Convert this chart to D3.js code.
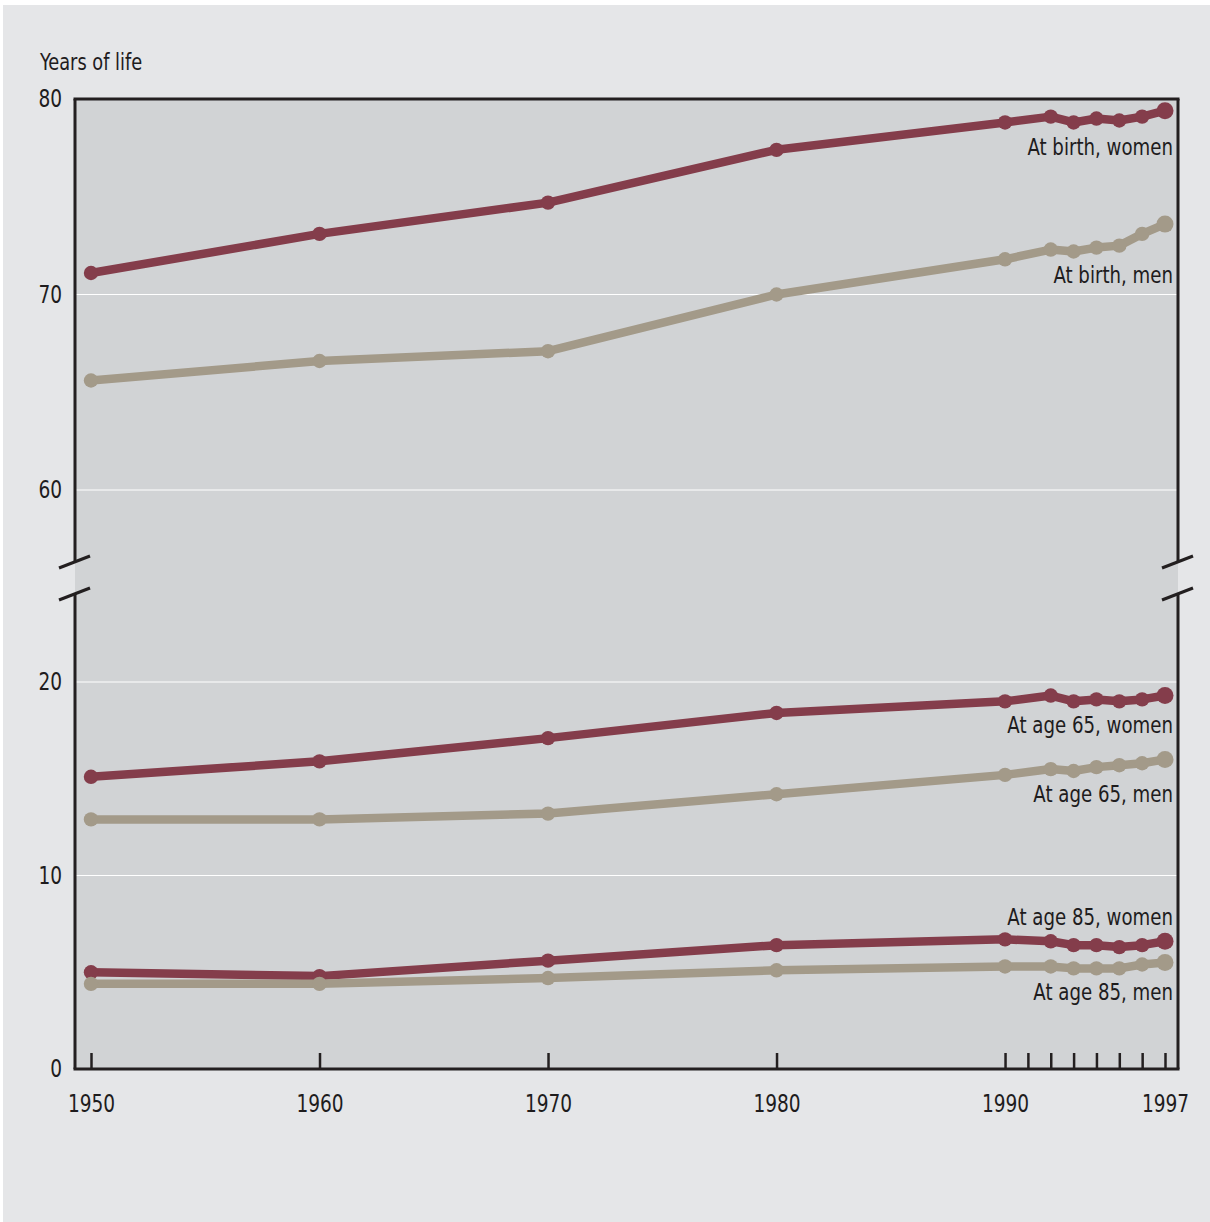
<!DOCTYPE html>
<html>
<head>
<meta charset="utf-8">
<script src="https://cdn.jsdelivr.net/npm/d3@7"></script>
<style>
  html, body { margin: 0; padding: 0; background: #ffffff; }
  svg { display: block; }
  text { font-family: "Liberation Sans Narrow", "DejaVu Sans Condensed", sans-serif; fill: #1e1c1d; }
</style>
</head>
<body>
<div id="chart"></div>
<script>
// ---- data ----
const years = [1950, 1960, 1970, 1980, 1990, 1992, 1993, 1994, 1995, 1996, 1997];
const birthWomen = [71.1, 73.1, 74.7, 77.4, 78.8, 79.1, 78.8, 79.0, 78.9, 79.1, 79.4];
const birthMen   = [65.6, 66.6, 67.1, 70.0, 71.8, 72.3, 72.2, 72.4, 72.5, 73.1, 73.6];
const age65Women = [15.1, 15.9, 17.1, 18.4, 19.0, 19.3, 19.0, 19.1, 19.0, 19.1, 19.3];
const age65Men   = [12.9, 12.9, 13.2, 14.2, 15.2, 15.5, 15.4, 15.6, 15.7, 15.8, 16.0];
const age85Women = [5.0, 4.8, 5.6, 6.4, 6.7, 6.6, 6.4, 6.4, 6.3, 6.4, 6.6];
const age85Men   = [4.4, 4.4, 4.7, 5.1, 5.3, 5.3, 5.2, 5.2, 5.2, 5.4, 5.5];
const seriesLabels = ["At birth, women", "At birth, men", "At age 65, women", "At age 65, men", "At age 85, women", "At age 85, men"];
const xTickValues = [1950, 1960, 1970, 1980, 1990, 1991, 1992, 1993, 1994, 1995, 1996, 1997];
const xTickLabels = [1950, 1960, 1970, 1980, 1990, 1997];
const yTickValues = [0, 10, 20, 60, 70, 80];
const gridValues = [10, 20, 60, 70];
const yTitle = "Years of life";

// ---- layout ----
const W = 1210, H = 1222;
const L = 75, R = 1178, T = 99, B = 1069;
const womenColor = "#843d4b", menColor = "#a39a89";
const SQ = 0.86; // horizontal squeeze to mimic a condensed face

const svg = d3.select("#chart").append("svg").attr("width", W).attr("height", H);
svg.append("rect").attr("x", 3).attr("y", 5).attr("width", W - 3).attr("height", H - 5).attr("fill", "#e5e6e8");

const x = d3.scaleLinear().domain([1950, 1997]).range([91, 1165]);
// broken axis: 20..60 compressed into the break
const y = d3.scaleLinear().domain([0, 20, 60, 80]).range([B, 682, 490, T]);

// plot background
svg.append("rect").attr("x", L).attr("y", T).attr("width", R - L).attr("height", B - T).attr("fill", "#d1d3d5");

// gridlines
svg.append("g").selectAll("line").data(gridValues).join("line")
  .attr("x1", L).attr("x2", R).attr("y1", d => y(d)).attr("y2", d => y(d))
  .attr("stroke", "#ffffff").attr("stroke-width", 1.2);

// frame with breaks
const frame = svg.append("g").attr("stroke", "#231f20").attr("stroke-width", 3).attr("fill", "none");
const brkTop = 562, brkBot = 594;
frame.append("line").attr("x1", L - 1.5).attr("x2", R + 1.5).attr("y1", T).attr("y2", T);
frame.append("line").attr("x1", L - 1.5).attr("x2", R + 1.5).attr("y1", B).attr("y2", B);
[L, R].forEach(xx => {
  frame.append("line").attr("x1", xx).attr("x2", xx).attr("y1", T).attr("y2", brkTop);
  frame.append("line").attr("x1", xx).attr("x2", xx).attr("y1", brkBot).attr("y2", B);
  frame.append("line").attr("x1", xx - 16).attr("x2", xx + 15).attr("y1", brkTop + 6).attr("y2", brkTop - 6);
  frame.append("line").attr("x1", xx - 16).attr("x2", xx + 15).attr("y1", brkBot + 6).attr("y2", brkBot - 6);
});

// x axis
const xAxis = d3.axisBottom(x).tickValues(xTickValues).tickSize(-16).tickPadding(26)
  .tickFormat(d => xTickLabels.includes(d) ? String(d) : "");
const gx = svg.append("g").attr("transform", `translate(0,${B})`).call(xAxis);
gx.select(".domain").remove();
gx.selectAll(".tick line").attr("stroke", "#231f20").attr("stroke-width", 2.5);
gx.selectAll(".tick text").attr("font-size", 24).attr("fill", "#1e1c1d")
  .attr("transform", `scale(${SQ},1)`)
  .style("font-family", "'Liberation Sans Narrow', 'DejaVu Sans Condensed', sans-serif");

// y axis
const yAxis = d3.axisLeft(y).tickValues(yTickValues).tickSize(0).tickPadding(13).tickFormat(d3.format("d"));
const gy = svg.append("g").attr("transform", `translate(${L},0)`).call(yAxis);
gy.select(".domain").remove();
gy.selectAll(".tick text").attr("font-size", 24).attr("fill", "#1e1c1d")
  .attr("x", -13 / SQ).attr("transform", `scale(${SQ},1)`)
  .style("font-family", "'Liberation Sans Narrow', 'DejaVu Sans Condensed', sans-serif");

function squeezedText(tx, ty, str, size, anchor) {
  svg.append("g").attr("transform", `translate(${tx},${ty}) scale(${SQ},1)`)
    .append("text").attr("text-anchor", anchor).attr("font-size", size).text(str);
}

squeezedText(40, 70, yTitle, 23, "start");

// series
const series = [
  { vals: birthWomen, color: womenColor, label: seriesLabels[0], ly: 155 },
  { vals: birthMen, color: menColor, label: seriesLabels[1], ly: 283 },
  { vals: age65Women, color: womenColor, label: seriesLabels[2], ly: 733 },
  { vals: age65Men, color: menColor, label: seriesLabels[3], ly: 802 },
  { vals: age85Women, color: womenColor, label: seriesLabels[4], ly: 925 },
  { vals: age85Men, color: menColor, label: seriesLabels[5], ly: 1000 }
];
const line = d3.line().x(d => x(d[0])).y(d => y(d[1]));

series.forEach(s => {
  const pts = years.map((yr, i) => [yr, s.vals[i]]);
  const g = svg.append("g");
  g.append("path").attr("d", line(pts)).attr("fill", "none").attr("stroke", s.color)
    .attr("stroke-width", 8.5).attr("stroke-linejoin", "round");
  g.selectAll("circle").data(pts).join("circle")
    .attr("cx", d => x(d[0])).attr("cy", d => y(d[1]))
    .attr("r", (d, i) => i === pts.length - 1 ? 8.5 : 7.2).attr("fill", s.color);
});

series.forEach(s => squeezedText(1173, s.ly, s.label, 23.5, "end"));
</script>
</body>
</html>
